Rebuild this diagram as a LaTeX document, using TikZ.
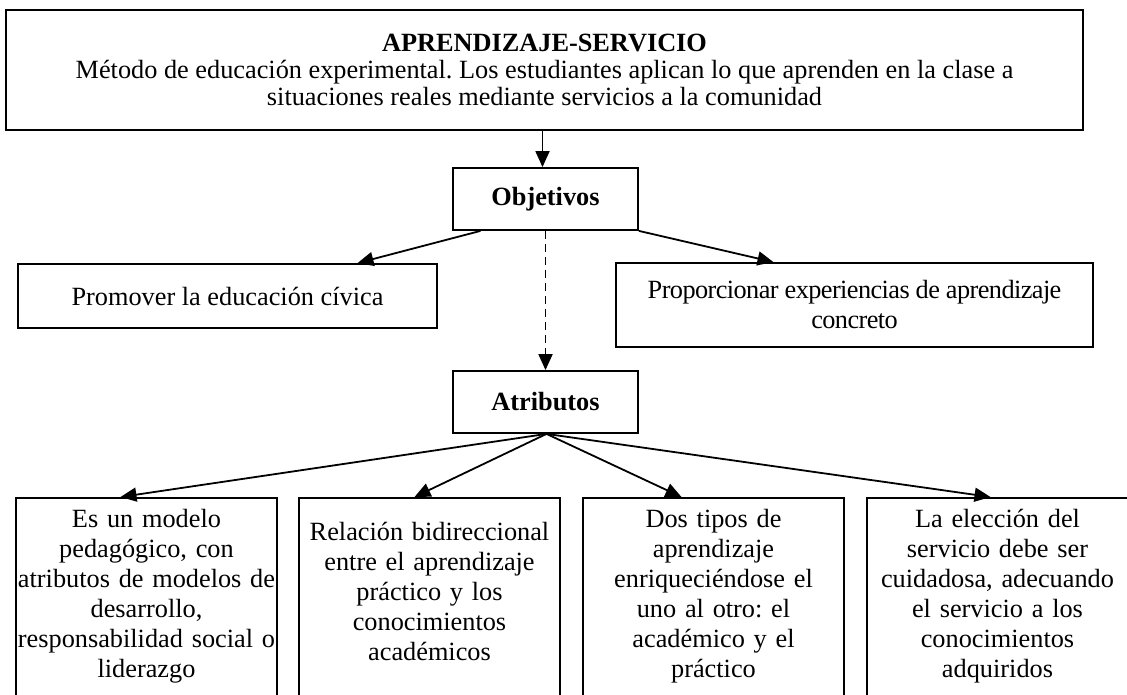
\documentclass[tikz,border=0pt]{standalone}
\usepackage{fontspec}
\setmainfont{Liberation Serif}
\frenchspacing
\usetikzlibrary{arrows.meta}

\begin{document}
\begin{tikzpicture}[x=1pt, y=-1pt, >={Triangle[length=16pt, width=14pt]},
    box/.style={draw, line width=1.8pt, align=center, inner sep=0pt,
        font=\fontsize{26.3}{27.3}\selectfont},
    headbox/.style={box, minimum width=185pt, minimum height=62pt, font=\fontsize{26.3}{27.3}\selectfont\bfseries},
    attrbox/.style={box, anchor=north, text width=261pt, text height=30pt, text depth=300pt,
        font=\fontsize{26.3}{30}\selectfont},
    link/.style={->, line width=1.8pt}]
    \clip (0,0) rectangle (1127,695);

    % Title
    \node[box, minimum width=1077pt, minimum height=120pt] (title) at (544.5,70)
        {\textbf{APRENDIZAJE-SERVICIO}\\
         Método de educación experimental. Los estudiantes aplican lo que aprenden en la clase a\\
         situaciones reales mediante servicios a la comunidad};

    % Objectives
    \node[headbox] (obj) at (545.5,199) {Objetivos};
    \node[box, minimum width=419pt, minimum height=64pt] (civic) at (227.5,296)
        {Promover la educación cívica};
    \node[box, minimum width=477pt, minimum height=84pt,
        font=\fontsize{26.3}{30}\selectfont\addfontfeature{LetterSpace=-2.2}] (exper) at (854.5,305)
        {Proporcionar experiencias de aprendizaje\\ concreto};

    % Attributes
    \node[headbox] (attr) at (545.5,402) {Atributos};
    \node[attrbox] (modelo) at (146.5,497)
        {Es un modelo\\ pedagógico, con\\ atributos de modelos de\\ desarrollo,\\ responsabilidad social o\\ liderazgo};
    \node[attrbox, text height=43pt] (relacion) at (429.5,497)
        {Relación bidireccional\\ entre el aprendizaje\\ práctico y los\\ conocimientos\\ académicos};
    \node[attrbox] (tipos) at (713.5,497)
        {Dos tipos de\\ aprendizaje\\ enriqueciéndose el\\ uno al otro: el\\ académico y el\\ práctico};
    \node[attrbox] (eleccion) at (997.5,497)
        {La elección del\\ servicio debe ser\\ cuidadosa, adecuando\\ el servicio a los\\ conocimientos\\ adquiridos};

    % Connectors
    \draw[link] ([xshift=-2pt]title.south) -- ([xshift=-3pt]obj.north);
    \draw[link] ([xshift=-65pt]obj.south) -- ([xshift=130pt]civic.north);
    \draw[link] (obj.south east) -- ([xshift=-81pt]exper.north);
    \draw[link, dash pattern=on 8pt off 5pt] (obj.south) -- (attr.north);
    \draw[link] ([xshift=1pt]attr.south) -- ([xshift=-26pt]modelo.north);
    \draw[link] ([xshift=1pt]attr.south) -- ([xshift=-15pt]relacion.north);
    \draw[link] ([xshift=1pt]attr.south) -- ([xshift=-32pt]tipos.north);
    \draw[link] ([xshift=1pt]attr.south) -- ([xshift=-7pt]eleccion.north);
\end{tikzpicture}
\end{document}
